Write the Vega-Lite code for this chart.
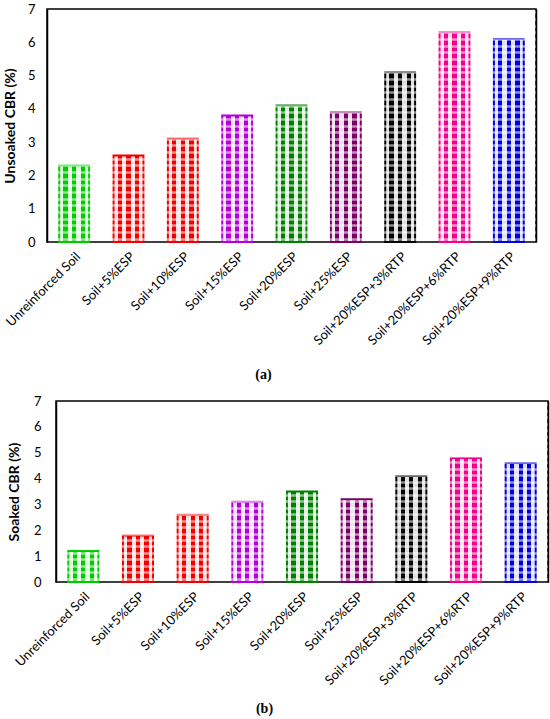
{
  "$schema": "https://vega.github.io/schema/vega-lite/v6.json",
  "padding": {"left": -1, "top": 2, "right": 2, "bottom": 0},
  "background": "white",
  "config": {
    "font": "Lato",
    "view": {"stroke": "#000", "strokeWidth": 1.5},
    "axis": {
      "labelColor": "#000", "titleColor": "#000",
      "labelFont": "Lato", "titleFont": "Lato",
      "labelFontSize": 13, "ticks": false, "domain": false, "grid": false
    }
  },
  "datasets": {
    "cbr": [
      {"treatment": "Unreinforced Soil", "unsoaked": 2.3, "soaked": 1.2},
      {"treatment": "Soil+5%ESP", "unsoaked": 2.6, "soaked": 1.8},
      {"treatment": "Soil+10%ESP", "unsoaked": 3.1, "soaked": 2.6},
      {"treatment": "Soil+15%ESP", "unsoaked": 3.8, "soaked": 3.1},
      {"treatment": "Soil+20%ESP", "unsoaked": 4.1, "soaked": 3.5},
      {"treatment": "Soil+25%ESP", "unsoaked": 3.9, "soaked": 3.2},
      {"treatment": "Soil+20%ESP+3%RTP", "unsoaked": 5.1, "soaked": 4.1},
      {"treatment": "Soil+20%ESP+6%RTP", "unsoaked": 6.3, "soaked": 4.8},
      {"treatment": "Soil+20%ESP+9%RTP", "unsoaked": 6.1, "soaked": 4.6}
    ]
  },
  "concat": [
    {
      "spacing": 0,
      "columns": 2,
      "align": "none",
      "concat": [
        {
          "width": 3,
          "height": 10,
          "view": {"stroke": null},
          "data": {"values": []},
          "mark": {"type": "rect"}
        },
        {
          "width": 489,
          "height": 233,
          "data": {"name": "cbr"},
          "encoding": {
            "x": {
              "field": "treatment", "type": "nominal", "sort": null,
              "scale": {"paddingInner": 0.45, "paddingOuter": 0.225},
              "axis": {
                "labelAngle": -45, "labelPadding": 8, "title": "(a)",
                "titleFont": "Liberation Serif", "titleFontWeight": "bold", "titleFontSize": 14,
                "titlePadding": 20, "titleX": 216, "titleAnchor": "middle"
              }
            }
          },
          "layer": [
            {
              "mark": {"type": "bar"},
              "encoding": {
                "y": {
                  "field": "unsoaked", "type": "quantitative",
                  "scale": {"domain": [0, 7], "nice": false},
                  "axis": {
                    "values": [0, 1, 2, 3, 4, 5, 6, 7], "title": "Unsoaked CBR (%)",
                    "titleFontSize": 14, "titleFontWeight": "bold", "labelPadding": 12, "titlePadding": 10,
                    "domain": true, "domainColor": "#000", "domainWidth": 1.5, "zindex": 1
                  }
                },
                "color": {
                  "field": "treatment", "type": "nominal", "legend": null,
                  "scale": {
                    "domain": ["Unreinforced Soil", "Soil+5%ESP", "Soil+10%ESP", "Soil+15%ESP", "Soil+20%ESP", "Soil+25%ESP", "Soil+20%ESP+3%RTP", "Soil+20%ESP+6%RTP", "Soil+20%ESP+9%RTP"],
                    "range": ["#00CC00", "#F00000", "#F00000", "#B300D9", "#008000", "#7A0068", "#000000", "#F0008C", "#0000DD"]
                  }
                }
              }
            },
            {
              "mark": {
                "type": "bar", "strokeWidth": 2,
                "fill": {
                  "gradient": "linear", "x1": 0, "y1": 0, "x2": 1, "y2": 0,
                  "stops": [
                    {"offset": 0, "color": "rgba(255,255,255,0.88)"},
                    {"offset": 0.143, "color": "rgba(255,255,255,0.88)"},
                    {"offset": 0.143, "color": "rgba(255,255,255,0)"},
                    {"offset": 0.286, "color": "rgba(255,255,255,0)"},
                    {"offset": 0.286, "color": "rgba(255,255,255,0.88)"},
                    {"offset": 0.429, "color": "rgba(255,255,255,0.88)"},
                    {"offset": 0.429, "color": "rgba(255,255,255,0)"},
                    {"offset": 0.571, "color": "rgba(255,255,255,0)"},
                    {"offset": 0.571, "color": "rgba(255,255,255,0.88)"},
                    {"offset": 0.714, "color": "rgba(255,255,255,0.88)"},
                    {"offset": 0.714, "color": "rgba(255,255,255,0)"},
                    {"offset": 0.857, "color": "rgba(255,255,255,0)"},
                    {"offset": 0.857, "color": "rgba(255,255,255,0.88)"},
                    {"offset": 1, "color": "rgba(255,255,255,0.88)"}
                  ]
                }
              },
              "encoding": {
                "y": {"field": "unsoaked", "type": "quantitative", "axis": null},
                "stroke": {
                  "field": "treatment", "type": "nominal", "legend": null,
                  "scale": {
                    "domain": ["Unreinforced Soil", "Soil+5%ESP", "Soil+10%ESP", "Soil+15%ESP", "Soil+20%ESP", "Soil+25%ESP", "Soil+20%ESP+3%RTP", "Soil+20%ESP+6%RTP", "Soil+20%ESP+9%RTP"],
                    "range": ["#00CC00", "#F00000", "#F00000", "#B300D9", "#008000", "#7A0068", "#000000", "#F0008C", "#0000DD"]
                  }
                }
              }
            },
            {
              "mark": {"type": "point", "opacity": 0},
              "encoding": {
                "y": {
                  "field": "unsoaked", "type": "quantitative",
                  "axis": {
                    "orient": "right", "labels": false, "ticks": false, "title": null,
                    "domain": true, "domainColor": "#000", "domainWidth": 1.5,
                    "grid": true, "gridColor": "#ffffff", "gridWidth": 2.5, "gridOpacity": 0.55, "zindex": 1,
                    "values": [0.1, 0.3, 0.5, 0.7, 0.9, 1.1, 1.3, 1.5, 1.7, 1.9, 2.1, 2.3, 2.5, 2.7, 2.9, 3.1, 3.3, 3.5, 3.7, 3.9, 4.1, 4.3, 4.5, 4.7, 4.9, 5.1, 5.3, 5.5, 5.7, 5.9, 6.1, 6.3, 6.5, 6.7, 6.9]
                  }
                }
              }
            }
          ],
          "resolve": {"axis": {"y": "independent"}}
        }
      ]
    },
    {
      "spacing": 0,
      "columns": 2,
      "align": "none",
      "concat": [
        {
          "width": 7,
          "height": 10,
          "view": {"stroke": null},
          "data": {"values": []},
          "mark": {"type": "rect"}
        },
        {
          "width": 492,
          "height": 181,
          "data": {"name": "cbr"},
          "encoding": {
            "x": {
              "field": "treatment", "type": "nominal", "sort": null,
              "scale": {"paddingInner": 0.45, "paddingOuter": 0.225},
              "axis": {
                "labelAngle": -45, "labelPadding": 8, "title": "(b)",
                "titleFont": "Liberation Serif", "titleFontWeight": "bold", "titleFontSize": 14,
                "titlePadding": 14, "titleX": 208, "titleAnchor": "middle"
              }
            }
          },
          "layer": [
            {
              "mark": {"type": "bar"},
              "encoding": {
                "y": {
                  "field": "soaked", "type": "quantitative",
                  "scale": {"domain": [0, 7], "nice": false},
                  "axis": {
                    "values": [0, 1, 2, 3, 4, 5, 6, 7], "title": "Soaked CBR (%)",
                    "titleFontSize": 14, "titleFontWeight": "bold", "labelPadding": 15, "titlePadding": 12,
                    "domain": true, "domainColor": "#000", "domainWidth": 1.5, "zindex": 1
                  }
                },
                "color": {
                  "field": "treatment", "type": "nominal", "legend": null,
                  "scale": {
                    "domain": ["Unreinforced Soil", "Soil+5%ESP", "Soil+10%ESP", "Soil+15%ESP", "Soil+20%ESP", "Soil+25%ESP", "Soil+20%ESP+3%RTP", "Soil+20%ESP+6%RTP", "Soil+20%ESP+9%RTP"],
                    "range": ["#00CC00", "#F00000", "#F00000", "#B300D9", "#008000", "#7A0068", "#000000", "#F0008C", "#0000DD"]
                  }
                }
              }
            },
            {
              "mark": {
                "type": "bar", "strokeWidth": 2,
                "fill": {
                  "gradient": "linear", "x1": 0, "y1": 0, "x2": 1, "y2": 0,
                  "stops": [
                    {"offset": 0, "color": "rgba(255,255,255,0.88)"},
                    {"offset": 0.143, "color": "rgba(255,255,255,0.88)"},
                    {"offset": 0.143, "color": "rgba(255,255,255,0)"},
                    {"offset": 0.286, "color": "rgba(255,255,255,0)"},
                    {"offset": 0.286, "color": "rgba(255,255,255,0.88)"},
                    {"offset": 0.429, "color": "rgba(255,255,255,0.88)"},
                    {"offset": 0.429, "color": "rgba(255,255,255,0)"},
                    {"offset": 0.571, "color": "rgba(255,255,255,0)"},
                    {"offset": 0.571, "color": "rgba(255,255,255,0.88)"},
                    {"offset": 0.714, "color": "rgba(255,255,255,0.88)"},
                    {"offset": 0.714, "color": "rgba(255,255,255,0)"},
                    {"offset": 0.857, "color": "rgba(255,255,255,0)"},
                    {"offset": 0.857, "color": "rgba(255,255,255,0.88)"},
                    {"offset": 1, "color": "rgba(255,255,255,0.88)"}
                  ]
                }
              },
              "encoding": {
                "y": {"field": "soaked", "type": "quantitative", "axis": null},
                "stroke": {
                  "field": "treatment", "type": "nominal", "legend": null,
                  "scale": {
                    "domain": ["Unreinforced Soil", "Soil+5%ESP", "Soil+10%ESP", "Soil+15%ESP", "Soil+20%ESP", "Soil+25%ESP", "Soil+20%ESP+3%RTP", "Soil+20%ESP+6%RTP", "Soil+20%ESP+9%RTP"],
                    "range": ["#00CC00", "#F00000", "#F00000", "#B300D9", "#008000", "#7A0068", "#000000", "#F0008C", "#0000DD"]
                  }
                }
              }
            },
            {
              "mark": {"type": "point", "opacity": 0},
              "encoding": {
                "y": {
                  "field": "soaked", "type": "quantitative",
                  "axis": {
                    "orient": "right", "labels": false, "ticks": false, "title": null,
                    "domain": true, "domainColor": "#000", "domainWidth": 1.5,
                    "grid": true, "gridColor": "#ffffff", "gridWidth": 2.5, "gridOpacity": 0.55, "zindex": 1,
                    "values": [0.125, 0.375, 0.625, 0.875, 1.125, 1.375, 1.625, 1.875, 2.125, 2.375, 2.625, 2.875, 3.125, 3.375, 3.625, 3.875, 4.125, 4.375, 4.625, 4.875, 5.125, 5.375, 5.625, 5.875, 6.125, 6.375, 6.625, 6.875]
                  }
                }
              }
            }
          ],
          "resolve": {"axis": {"y": "independent"}}
        }
      ]
    }
  ],
  "columns": 1,
  "align": "none",
  "spacing": 11
}
